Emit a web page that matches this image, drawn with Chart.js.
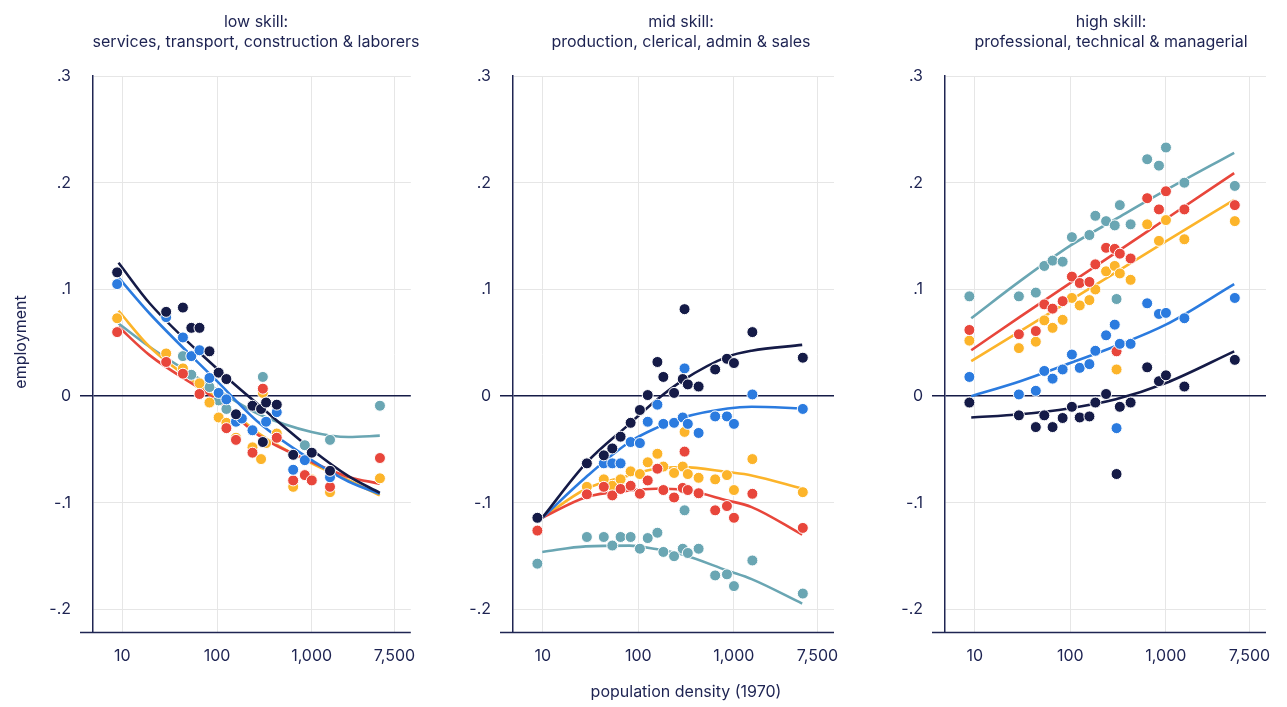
<!DOCTYPE html>
<html><head><meta charset="utf-8">
<script src="https://cdn.jsdelivr.net/npm/chart.js@4.4.1/dist/chart.umd.min.js"></script>
<style>
html,body{margin:0;padding:0;background:#fff;width:1287px;height:707px;overflow:hidden}
.p{position:absolute;top:0;height:707px}
canvas{display:block}
</style></head><body>
<div class="p" style="left:0;width:430px"><canvas id="c1" width="430" height="707"></canvas></div>
<div class="p" style="left:430px;width:430px"><canvas id="c2" width="430" height="707"></canvas></div>
<div class="p" style="left:860px;width:427px"><canvas id="c3" width="427" height="707"></canvas></div>
<script>
// ---- shared x (population density, 1970) ----
const density = [8.8, 29, 43.6, 53.5, 65.3, 83.2, 104, 125.6, 158.6, 183, 237, 292, 305, 330, 428, 638, 847, 1003, 1563, 5270];

// ---- tick values / labels ----
const xTickValues = [10, 100, 1000, 7500];
const xTickLabels = ['10', '100', '1,000', '7,500'];
const yTickValues = [-0.2, -0.1, 0, 0.1, 0.2, 0.3];
const yTickLabels = ['-.2', '-.1', '0', '.1', '.2', '.3'];

// ---- titles ----
const panelTitles = [
  ['low skill:', 'services, transport, construction & laborers'],
  ['mid skill:', 'production, clerical, admin & sales'],
  ['high skill:', 'professional, technical & managerial']
];
const yAxisTitle = 'employment';
const xAxisTitle = 'population density (1970)';

// ---- low skill points ----
const lowNavy   = [0.116, 0.079, 0.083, 0.064, 0.064, 0.042, 0.022, 0.016, -0.017, null, -0.009, -0.012, -0.043, -0.006, -0.008, -0.055, null, -0.053, -0.070, null];
const lowBlue   = [0.105, 0.074, 0.055, 0.0375, 0.043, 0.017, 0.003, -0.003, -0.024, -0.021, -0.032, null, null, -0.024, -0.015, -0.069, -0.060, null, -0.076, null];
const lowRed    = [0.060, 0.032, 0.021, null, 0.002, null, null, -0.030, -0.041, null, -0.053, null, 0.007, null, -0.039, -0.079, -0.074, -0.079, -0.085, -0.058];
const lowOrange = [0.073, 0.040, 0.026, null, 0.012, -0.006, -0.020, -0.025, -0.039, null, -0.048, -0.059, 0.003, -0.044, -0.035, -0.085, null, -0.078, -0.090, -0.077];
const lowTeal   = [null, null, 0.0375, 0.020, null, 0.0085, -0.004, -0.012, null, null, null, null, 0.018, null, null, null, -0.046, null, -0.041, -0.009];

// ---- mid skill points ----
const midNavy   = [-0.114, -0.063, -0.0555, -0.049, -0.038, -0.025, -0.013, 0.001, 0.032, 0.018, 0.003, 0.016, 0.0815, 0.011, 0.009, 0.025, 0.035, 0.031, 0.060, 0.036];
const midBlue   = [null, null, -0.063, -0.063, -0.063, -0.043, -0.044, -0.024, -0.008, -0.026, -0.025, -0.020, 0.026, -0.026, -0.0345, -0.019, -0.019, -0.026, 0.0016, -0.012];
const midRed    = [-0.126, -0.092, -0.085, -0.093, -0.087, -0.084, -0.0915, -0.079, -0.068, -0.088, -0.095, -0.086, -0.052, -0.088, -0.091, -0.107, -0.103, -0.114, -0.0915, -0.1235];
const midOrange = [null, -0.085, -0.078, -0.084, -0.078, -0.0705, -0.073, -0.062, -0.054, -0.066, -0.072, -0.066, -0.0335, -0.073, -0.0765, -0.078, -0.074, -0.088, -0.059, -0.090];
const midTeal   = [-0.157, -0.132, -0.132, -0.140, -0.132, -0.132, -0.143, -0.133, -0.128, -0.146, -0.150, -0.143, -0.107, -0.147, -0.143, -0.168, -0.167, -0.178, -0.154, -0.185];

// ---- high skill points ----
const highNavy   = [-0.006, -0.018, -0.029, -0.018, -0.029, -0.0205, -0.010, -0.020, -0.019, -0.006, 0.002, null, -0.073, -0.010, -0.006, 0.027, 0.014, 0.0195, 0.009, 0.034];
const highBlue   = [0.018, 0.0016, 0.005, 0.0236, 0.0164, 0.025, 0.039, 0.0265, 0.030, 0.0425, 0.057, 0.067, -0.030, 0.049, 0.049, 0.087, 0.077, 0.078, 0.073, 0.092];
const highRed    = [0.062, 0.058, 0.061, 0.086, 0.082, 0.089, 0.112, 0.106, 0.107, 0.1235, 0.139, 0.138, 0.042, 0.1335, 0.129, 0.1855, 0.175, 0.192, 0.175, 0.179];
const highOrange = [0.052, 0.045, 0.051, 0.071, 0.064, 0.0715, 0.092, 0.085, 0.090, 0.100, 0.117, 0.122, 0.025, 0.115, 0.109, 0.161, 0.1455, 0.165, 0.147, 0.164];
const highTeal   = [0.0935, 0.0935, 0.097, 0.122, 0.127, 0.126, 0.149, null, 0.151, 0.169, 0.164, 0.160, 0.091, 0.179, 0.161, 0.222, 0.216, 0.233, 0.200, 0.197];

// ---- fitted curves ----
const lowFitX      = [9.1, 19.5, 100, 278, 1000, 2450, 5250];
const lowFitNavy   = [0.125, 0.0868, 0.0257, -0.0086, -0.050, -0.075, -0.0906];
const lowFitBlue   = [0.111, 0.0772, 0.014, -0.025, -0.060, -0.080, -0.0916];
const lowFitRed    = [0.065, 0.0382, -0.0039, -0.037, -0.0617, -0.0757, -0.082];
const lowFitOrange = [0.080, 0.046, -0.0023, -0.035, -0.063, -0.0788, -0.093];
const lowFitTeal   = [0.068, 0.046, 0.0061, -0.017, -0.0336, -0.0383, -0.037];

const midFitX      = [9.9, 28.3, 81, 153, 295, 861, 1535, 5190];
const midFitNavy   = [-0.114, -0.063, -0.026, -0.004, 0.015, 0.037, 0.0426, 0.048];
const midFitBlue   = [-0.114, -0.076, -0.043, -0.030, -0.020, -0.0116, -0.010, -0.0116];
const midFitRed    = [-0.114, -0.0947, -0.0884, -0.0868, -0.0878, -0.0978, -0.104, -0.1298];
const midFitOrange = [-0.114, -0.087, -0.0743, -0.068, -0.0665, -0.0712, -0.0743, -0.0868];
const midFitTeal   = [-0.146, -0.1408, -0.1401, -0.1433, -0.1486, -0.1636, -0.1715, -0.1944];

const highFitX      = [9.2, 30, 100, 300, 1000, 5190];
const highFitNavy   = [-0.020, -0.017, -0.0113, -0.003, 0.0123, 0.042];
const highFitBlue   = [0.0, 0.014, 0.031, 0.047, 0.067, 0.105];
const highFitRed    = [0.043, 0.0745, 0.106, 0.1345, 0.166, 0.209];
const highFitOrange = [0.0328, 0.061, 0.0898, 0.116, 0.145, 0.184];
const highFitTeal   = [0.073, 0.108, 0.141, 0.166, 0.193, 0.228];

// ---- styling ----
const NAVY = '#151b47', BLUE = '#2b7bdf', RED = '#e8463b', ORANGE = '#fcb42a', TEAL = '#6aa6b3';
const TEXT = '#1d2352', GRID = '#e6e6e6', AXIS = '#1f2552';
const FONT = 'Inter, Roboto, sans-serif';
const FSIZE = 16;
Chart.defaults.font.family = FONT;
Chart.defaults.font.size = FSIZE;
Chart.defaults.color = TEXT;

const extras = {
  id: 'extras',
  afterDraw(chart, args, o) {
    const ctx = chart.ctx, a = chart.chartArea;
    ctx.save();
    ctx.strokeStyle = AXIS; ctx.lineWidth = 1.5;
    ctx.beginPath(); ctx.moveTo(a.left - 13, a.bottom); ctx.lineTo(a.right, a.bottom); ctx.stroke();
    ctx.fillStyle = TEXT; ctx.textAlign = 'center'; ctx.textBaseline = 'alphabetic';
    ctx.font = FSIZE + 'px ' + FONT;
    ctx.fillText(o.title[0], o.titleX, 26.5);
    ctx.fillText(o.title[1], o.titleX, 47);
    if (o.yTitle) {
      ctx.save(); ctx.translate(o.yTitle.x, o.yTitle.y); ctx.rotate(-Math.PI / 2);
      ctx.textBaseline = 'middle'; ctx.fillText(o.yTitle.text, 0, 0); ctx.restore();
    }
    if (o.xTitle) {
      ctx.textBaseline = 'middle'; ctx.fillText(o.xTitle.text, o.xTitle.x, o.xTitle.y);
    }
    ctx.restore();
  }
};

function pts(vals) {
  const out = [];
  vals.forEach((v, i) => { if (v !== null) out.push({x: density[i], y: v}); });
  return out;
}
function fit(xs, vals) { return xs.map((x, i) => ({x: x, y: vals[i]})); }

function makeChart(id, yW, padRight, titleX, pointSets, fitX, fitSets, extraOpts) {
  const colors = [NAVY, BLUE, RED, ORANGE, TEAL];
  const datasets = [];
  pointSets.forEach((vals, k) => datasets.push({
    data: pts(vals), backgroundColor: colors[k], borderColor: '#ffffff', borderWidth: 1,
    pointRadius: 5.5, showLine: false, order: 0
  }));
  fitSets.forEach((vals, k) => datasets.push({
    data: fit(fitX, vals), borderColor: colors[k], backgroundColor: colors[k], borderWidth: 2.6,
    pointRadius: 0, showLine: true, cubicInterpolationMode: 'monotone', fill: false, order: 1
  }));
  return new Chart(document.getElementById(id), {
    type: 'scatter',
    data: {datasets},
    plugins: [extras],
    options: {
      responsive: false, animation: false, events: [],
      layout: {padding: {left: 0, right: padRight, top: 76, bottom: 0}},
      plugins: {
        legend: {display: false}, tooltip: {enabled: false},
        extras: Object.assign({title: null, titleX: titleX}, extraOpts)
      },
      scales: {
        x: {
          type: 'logarithmic', min: 4.89, max: 11170,
          afterBuildTicks: s => { s.ticks = xTickValues.map(v => ({value: v})); },
          afterFit: s => { s.height = 74.5; },
          ticks: {autoSkip: false, maxRotation: 0, padding: 14, color: TEXT,
                  callback: v => xTickLabels[xTickValues.indexOf(v)]},
          grid: {color: GRID, lineWidth: 1, drawTicks: false},
          border: {display: false}
        },
        y: {
          type: 'linear', min: -0.2215, max: 0.3,
          afterBuildTicks: s => { s.ticks = yTickValues.map(v => ({value: v})); },
          afterFit: s => { s.width = yW; },
          ticks: {padding: 9, color: TEXT,
                  callback: v => yTickLabels[yTickValues.findIndex(t => Math.abs(t - v) < 1e-9)]},
          grid: {
            color: c => (c.tick && Math.abs(c.tick.value) < 1e-9) ? NAVY : GRID,
            lineWidth: c => (c.tick && Math.abs(c.tick.value) < 1e-9) ? 1.5 : 1,
            drawTicks: true, tickLength: 13,
            tickColor: c => (c.tick && Math.abs(c.tick.value) < 1e-9) ? NAVY : 'rgba(0,0,0,0)'
          },
          border: {display: true, color: AXIS, width: 1.5}
        }
      }
    }
  });
}

makeChart('c1', 93, 17, 256,
  [lowNavy, lowBlue, lowRed, lowOrange, lowTeal], lowFitX,
  [lowFitNavy, lowFitBlue, lowFitRed, lowFitOrange, lowFitTeal],
  {title: panelTitles[0], yTitle: {text: yAxisTitle, x: 20.7, y: 342}});
makeChart('c2', 83, 26, 681 - 430,
  [midNavy, midBlue, midRed, midOrange, midTeal], midFitX,
  [midFitNavy, midFitBlue, midFitRed, midFitOrange, midFitTeal],
  {title: panelTitles[1], xTitle: {text: xAxisTitle, x: 686 - 430, y: 692}});
makeChart('c3', 85, 21, 1111 - 860,
  [highNavy, highBlue, highRed, highOrange, highTeal], highFitX,
  [highFitNavy, highFitBlue, highFitRed, highFitOrange, highFitTeal],
  {title: panelTitles[2]});
</script>
</body></html>
